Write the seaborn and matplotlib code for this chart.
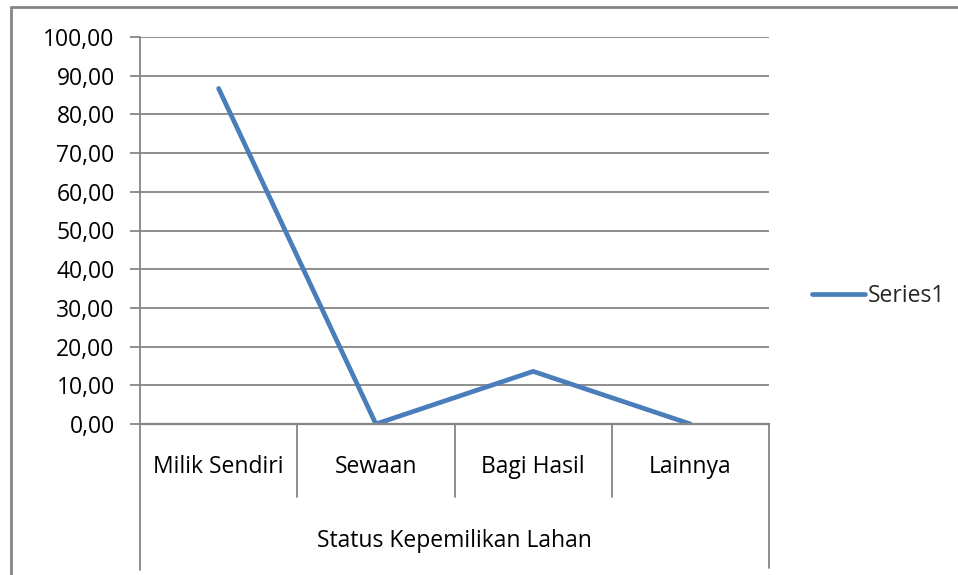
import matplotlib
matplotlib.use("Agg")
import matplotlib.pyplot as plt
import matplotlib.transforms as mtransforms
from matplotlib.lines import Line2D
import seaborn as sns
import pandas as pd

categories = ["Milik Sendiri", "Sewaan", "Bagi Hasil", "Lainnya"]
values = [86.7, 0.0, 13.6, 0.0]
series_name = "Series1"
group_label = "Status Kepemilikan Lahan"
y_ticks = [0, 10, 20, 30, 40, 50, 60, 70, 80, 90, 100]

sns.set_theme(style="white")
plt.rcParams["font.family"] = ["Open Sans", "DejaVu Sans"]
FS = 16.5

W, H = 958, 575
fig = plt.figure(figsize=(W / 100, H / 100), dpi=100)
fig.patch.set_facecolor("white")

x0, x1, ytop, ybot = 140, 769, 37, 424
ax = fig.add_axes([x0 / W, 1 - ybot / H, (x1 - x0) / W, (ybot - ytop) / H])

df = pd.DataFrame({"cat": categories, "val": values, "series": series_name})
df["pos"] = range(len(categories))
sns.lineplot(data=df, x="pos", y="val", ax=ax, color="#4A7EBB", linewidth=3.4,
             sort=False, legend=False, solid_joinstyle="miter")

grid_c = "#868686"
ax.set_xlim(-0.5, len(categories) - 0.5)
ax.set_ylim(0, 100)
ax.set_yticks(y_ticks)
ax.set_yticklabels([f"{v:.2f}".replace(".", ",") for v in y_ticks], fontsize=FS, color="black")
ax.yaxis.grid(True, color=grid_c, linewidth=1.3)
ax.set_axisbelow(True)
ax.tick_params(axis="y", length=7.2, width=1.3, color=grid_c, pad=11, left=True)
ax.set_xticks([])
ax.set_xlabel("")
ax.set_ylabel("")
for s in ["top", "right"]:
    ax.spines[s].set_visible(False)
ax.spines["left"].set_color(grid_c)
ax.spines["left"].set_linewidth(1.3)
ax.spines["bottom"].set_color(grid_c)
ax.spines["bottom"].set_linewidth(1.6)

# multi-level category axis
trans = mtransforms.blended_transform_factory(ax.transData, ax.transAxes)
h = ybot - ytop
def fy(py):
    return (ybot - py) / h

for i in range(1, len(categories)):
    ax.add_line(Line2D([i - 0.5, i - 0.5], [0, fy(497)], transform=trans,
                       color=grid_c, linewidth=1.3, clip_on=False))
for xe, yb in [(-0.5, 570), (len(categories) - 0.5, 568)]:
    ax.add_line(Line2D([xe, xe], [0, fy(yb)], transform=trans,
                       color=grid_c, linewidth=1.3, clip_on=False))
for i, c in enumerate(categories):
    ax.text(i, fy(467), c, transform=trans, ha="center", va="center",
            fontsize=FS, color="black", clip_on=False)
ax.text((len(categories) - 1) / 2, fy(541), group_label, transform=trans,
        ha="center", va="center", fontsize=FS, color="black", clip_on=False)

# legend
leg_h = [Line2D([0], [0], color="#4A7EBB", linewidth=3.4)]
fig.legend(leg_h, [series_name], loc="center left",
           bbox_to_anchor=(801 / W, 1 - 296 / H), frameon=False,
           fontsize=FS, handlelength=2.3, handletextpad=0.1, borderpad=0)

# outer chart border (left and top visible)
fig.add_artist(Line2D([11 / W, 11 / W], [0, 1 - 7 / H], transform=fig.transFigure,
                      color=grid_c, linewidth=2))
fig.add_artist(Line2D([11 / W, 1], [1 - 7 / H, 1 - 7 / H], transform=fig.transFigure,
                      color=grid_c, linewidth=2))

fig.savefig("out.png", dpi=100, facecolor="white")
